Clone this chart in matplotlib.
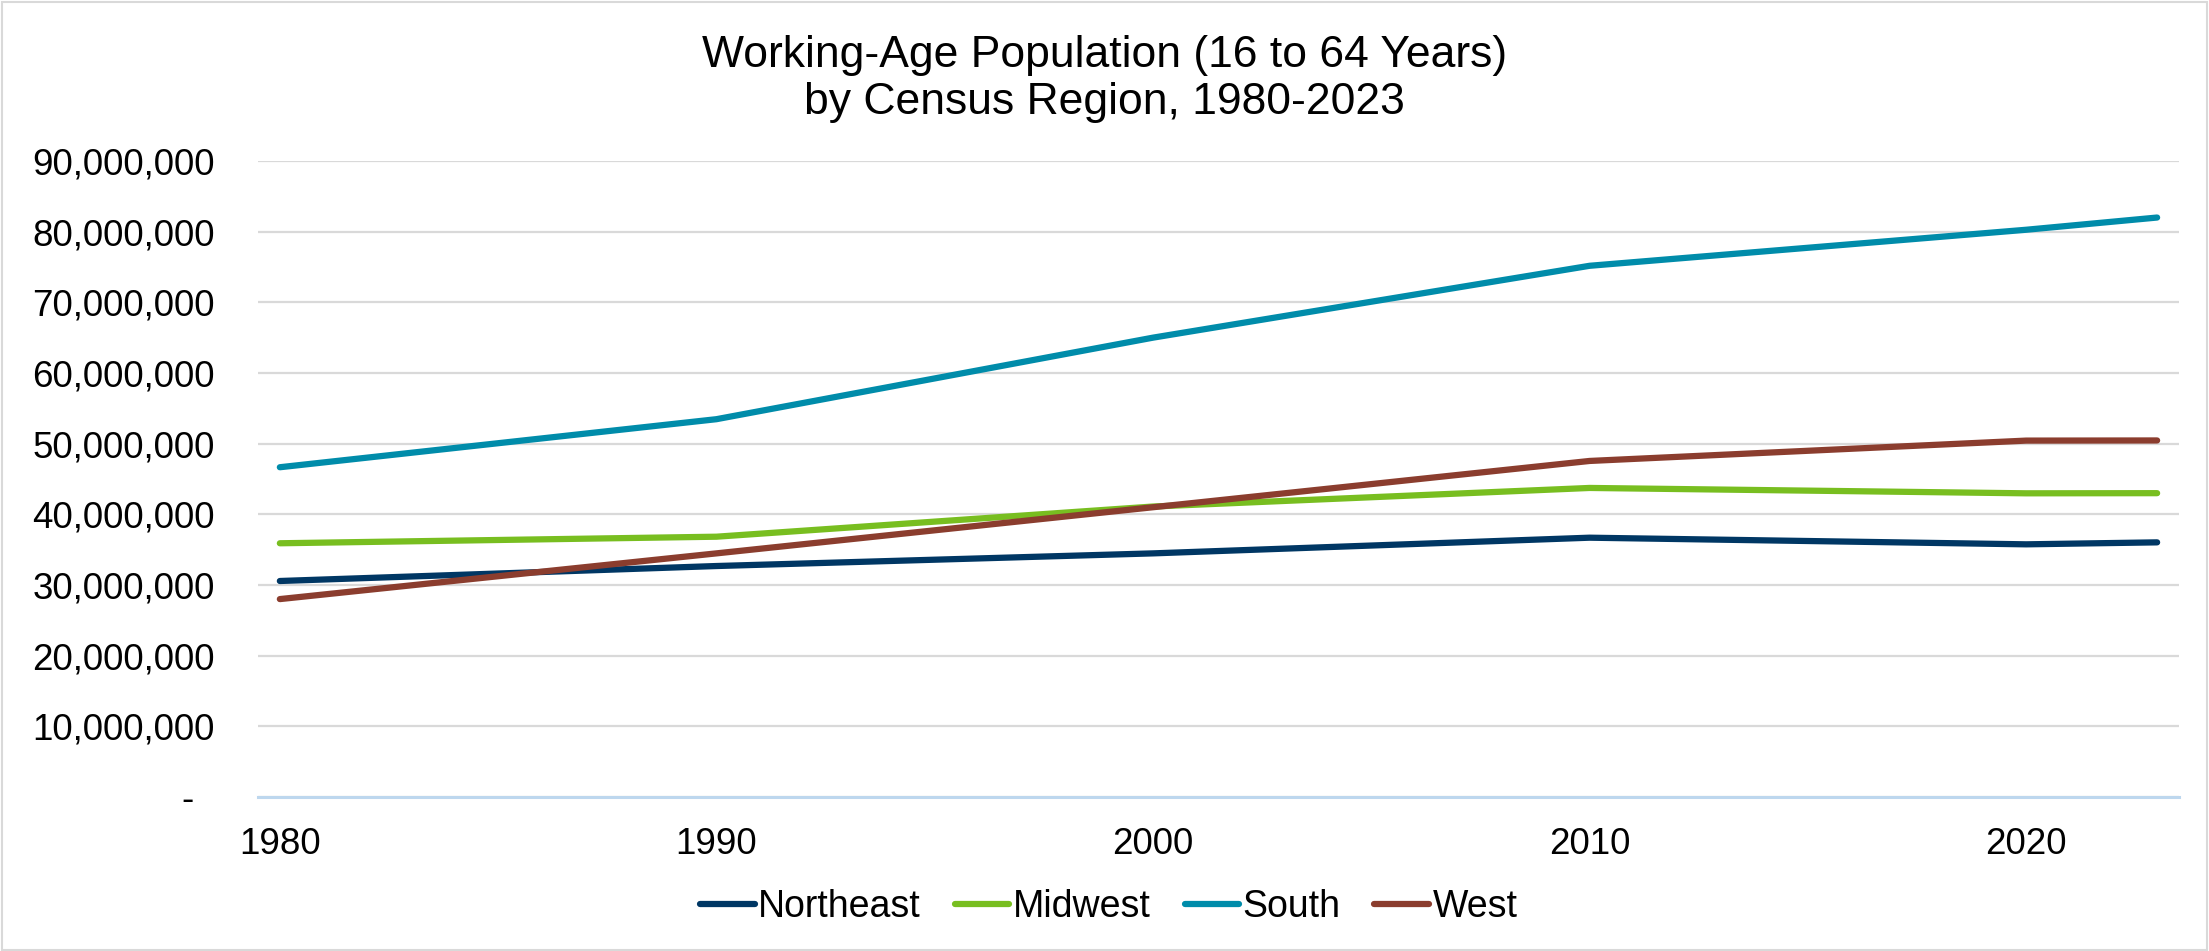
import matplotlib
matplotlib.use("Agg")
import matplotlib.pyplot as plt
from matplotlib.ticker import FuncFormatter
from matplotlib.patches import Rectangle

plt.rcParams['font.family'] = ['Liberation Sans', 'DejaVu Sans']

# data
years = [1980, 1990, 2000, 2010, 2020, 2023]
northeast = [30560000, 32680000, 34470000, 36690000, 35750000, 36030000]
midwest = [35900000, 36830000, 41100000, 43730000, 42970000, 42990000]
south = [46660000, 53460000, 65000000, 75170000, 80270000, 82000000]
west = [28000000, 34470000, 41000000, 47550000, 50430000, 50450000]

regions = ['Northeast', 'Midwest', 'South', 'West']
colors = ['#003764', '#78BE20', '#008CAA', '#8B3D2E']
x_ticks = [1980, 1990, 2000, 2010, 2020]
y_ticks = list(range(0, 90000001, 10000000))

fig = plt.figure(figsize=(22.09, 9.51), dpi=100)
ax = fig.add_axes([0.1168, 0.162, 0.8696, 0.6687])

for name, vals, col in zip(regions, [northeast, midwest, south, west], colors):
    ax.plot(years, vals, color=col, lw=4.5, solid_capstyle='round', label=name)

ax.set_xlim(1979.5, 2023.5)
ax.set_ylim(0, 90000000)
ax.set_xticks(x_ticks)
ax.set_yticks(y_ticks)
ax.yaxis.set_major_formatter(FuncFormatter(lambda v, p: '-  ' if v == 0 else '{:,.0f}'.format(v)))

ax.grid(axis='y', color='#D9D9D9', lw=1.6)
ax.set_axisbelow(True)
for s in ['top', 'right', 'left']:
    ax.spines[s].set_visible(False)
ax.spines['bottom'].set_color('#BDD7EE')
ax.spines['bottom'].set_linewidth(2.2)
ax.tick_params(axis='both', length=0, labelsize=26.5, colors='black')
ax.tick_params(axis='y', pad=31)
ax.tick_params(axis='x', pad=22)

fig.text(0.5, 0.917, 'Working-Age Population (16 to 64 Years)\nby Census Region, 1980-2023',
         ha='center', va='center', fontsize=32, linespacing=1.2)

fig.legend(loc='center', bbox_to_anchor=(0.502, 0.046), ncol=4, frameon=False,
           fontsize=27, handlelength=1.45, handletextpad=0.1, columnspacing=0.9)

# light border round the chart
fig.patches.append(Rectangle((0.001, 0.001), 0.998, 0.997, transform=fig.transFigure,
                             fill=False, edgecolor='#D9D9D9', lw=1.5))

fig.savefig('out.png', dpi=100, facecolor='white')
